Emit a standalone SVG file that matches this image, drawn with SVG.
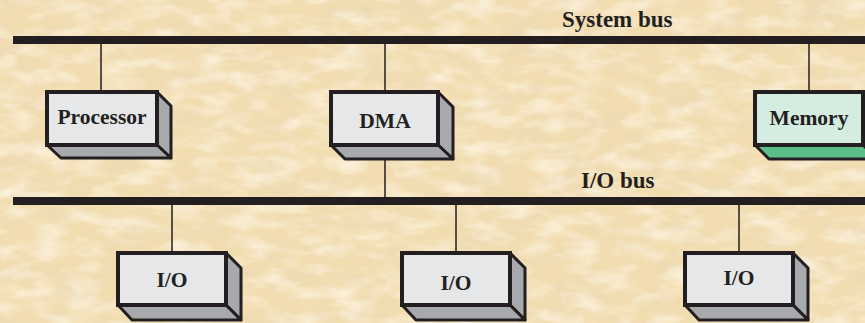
<svg xmlns="http://www.w3.org/2000/svg" width="865" height="323" viewBox="0 0 865 323">
  <defs>
    <filter id="parchment" x="0" y="0" width="100%" height="100%">
      <feTurbulence type="fractalNoise" baseFrequency="0.02 0.045" numOctaves="4" seed="7" result="n"/>
      <feColorMatrix in="n" type="matrix" values="0 0 0 0 0.82  0 0 0 0 0.69  0 0 0 0 0.47  1.5 0 0 0 -0.72" result="dark"/>
      <feTurbulence type="fractalNoise" baseFrequency="0.03 0.07" numOctaves="3" seed="21" result="m"/>
      <feColorMatrix in="m" type="matrix" values="0 0 0 0 0.99  0 0 0 0 0.94  0 0 0 0 0.82  0 1.6 0 0 -0.68" result="light"/>
      <feMerge>
        <feMergeNode in="dark"/>
        <feMergeNode in="light"/>
      </feMerge>
    </filter>
    <style>
      .bus { fill: #231f20; }
      .wire { stroke: #231f20; stroke-width: 1.5; fill: none; }
      .front { fill: #e6e7e8; stroke: #231f20; stroke-width: 4; stroke-linejoin: miter; }
      .side { fill: #a7a9ac; stroke: #231f20; stroke-width: 3; stroke-linejoin: round; }
      .mem-front { fill: #d5ece0; stroke: #231f20; stroke-width: 4; }
      .mem-side { fill: #5dbe89; stroke: #231f20; stroke-width: 3; stroke-linejoin: round; }
      .label { font-family: "Liberation Serif", "Times New Roman", serif; font-weight: bold; font-size: 21.5px; fill: #231f20; text-anchor: middle; }
      .buslabel { font-family: "Liberation Serif", "Times New Roman", serif; font-weight: bold; font-size: 23px; fill: #231f20; }
    </style>
  </defs>

  <!-- parchment background -->
  <rect x="0" y="0" width="865" height="323" fill="#f2ddb1"/>
  <rect x="0" y="0" width="865" height="323" filter="url(#parchment)"/>

  <!-- buses and connecting wires -->
  <g id="connectors">
    <rect class="bus" x="13" y="36" width="852" height="8"/>
    <rect class="bus" x="13" y="197" width="852" height="8"/>
    <line class="wire" x1="101" y1="44" x2="101" y2="92"/>
    <line class="wire" x1="385" y1="44" x2="385" y2="92"/>
    <line class="wire" x1="809" y1="44" x2="809" y2="92"/>
    <line class="wire" x1="385" y1="145" x2="385" y2="197"/>
    <line class="wire" x1="172" y1="205" x2="172" y2="253"/>
    <line class="wire" x1="456" y1="205" x2="456" y2="253"/>
    <line class="wire" x1="739" y1="205" x2="739" y2="253"/>
  </g>

  <text class="buslabel" x="562" y="27">System bus</text>
  <text class="buslabel" x="581" y="188">I/O bus</text>

  <g id="processor">
    <path class="side" d="M157 92 L171 106 L171 158 L157 145 Z"/>
    <path class="side" d="M47 145 L157 145 L171 158 L61 158 Z"/>
    <rect class="front" x="47" y="92" width="110" height="53"/>
    <text class="label" x="102" y="124">Processor</text>
  </g>

  <g id="dma">
    <path class="side" d="M438 92 L453 107 L453 159 L438 145 Z"/>
    <path class="side" d="M331 145 L438 145 L453 159 L345 159 Z"/>
    <rect class="front" x="331" y="92" width="107" height="53"/>
    <text class="label" x="385" y="128">DMA</text>
  </g>

  <g id="memory">
    <path class="mem-side" d="M863 92 L878 107 L878 159 L863 145 Z"/>
    <path class="mem-side" d="M755 145 L863 145 L878 159 L769 159 Z"/>
    <rect class="mem-front" x="755" y="92" width="108" height="53"/>
    <text class="label" x="809" y="125">Memory</text>
  </g>

  <g id="io1">
    <path class="side" d="M226 253 L241 268 L241 320 L226 305 Z"/>
    <path class="side" d="M118 305 L226 305 L241 320 L132 320 Z"/>
    <rect class="front" x="118" y="253" width="108" height="52"/>
    <text class="label" x="172" y="287">I/O</text>
  </g>

  <g id="io2">
    <path class="side" d="M510 253 L525 268 L525 320 L510 305 Z"/>
    <path class="side" d="M402 305 L510 305 L525 320 L416 320 Z"/>
    <rect class="front" x="402" y="253" width="108" height="52"/>
    <text class="label" x="456" y="290">I/O</text>
  </g>

  <g id="io3">
    <path class="side" d="M793 253 L808 268 L808 320 L793 305 Z"/>
    <path class="side" d="M685 305 L793 305 L808 320 L699 320 Z"/>
    <rect class="front" x="685" y="253" width="108" height="52"/>
    <text class="label" x="739" y="285">I/O</text>
  </g>
</svg>
